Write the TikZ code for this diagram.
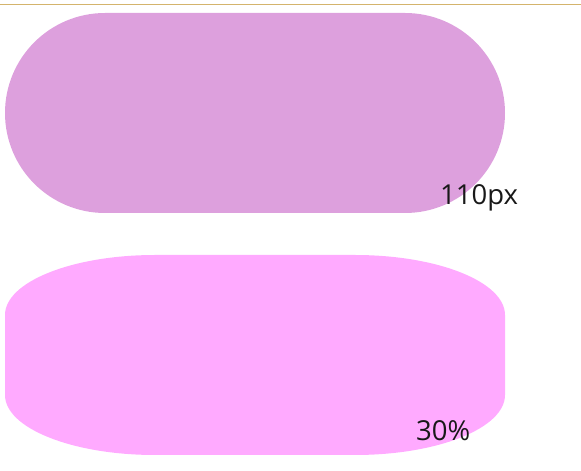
\documentclass[tikz,border=0pt]{standalone}
\usepackage{fontspec}
\setmainfont{Open Sans}
\definecolor{plumc}{HTML}{DDA0DD}
\definecolor{pinkc}{HTML}{FFAAFF}
\definecolor{linec}{HTML}{D4B46C}
\begin{document}
\begin{tikzpicture}[x=1pt,y=1pt,
  lbl/.style={inner sep=0pt,anchor=base west,font=\fontsize{27.5}{32}\selectfont,text=black!90}]
\useasboundingbox (0,0) rectangle (581,471);
\draw[linec,line width=1.1pt] (0,466.5) coordinate (l1) -- (581,466.5) coordinate (l2);
\fill[plumc,rounded corners=100pt] (5,258) rectangle (505,458);
\fill[pinkc] (5,76) -- (5,156) arc[start angle=180,end angle=90,x radius=150,y radius=60]
  -- (355,216) arc[start angle=90,end angle=0,x radius=150,y radius=60]
  -- (505,76) arc[start angle=0,end angle=-90,x radius=150,y radius=60]
  -- (155,16) arc[start angle=-90,end angle=-180,x radius=150,y radius=60] -- cycle;
\node[lbl] (t1) at (440,266) {110px};
\node[lbl] (t2) at (416,30) {30\%};
\end{tikzpicture}
\end{document}
